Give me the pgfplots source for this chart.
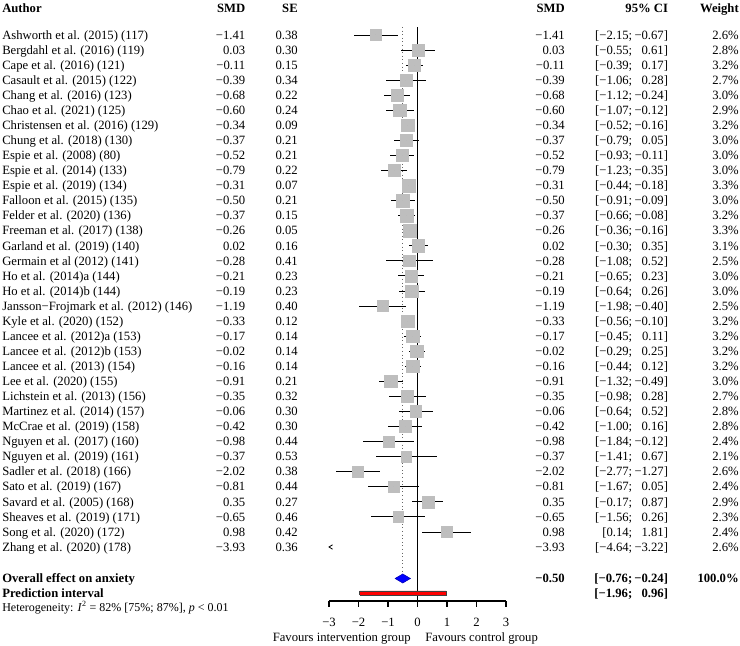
\documentclass[border=0pt]{standalone}
\usepackage{fontspec}
\setmainfont{Liberation Serif}
\usepackage{pgfplots}
\usepackage{pgfplotstable}
\pgfplotsset{compat=1.18}
\definecolor{sqgray}{RGB}{190,190,190}

\pgfplotstableread[col sep=comma]{
i,name,smd,lo,hi,w,wh,smds,ses,los,his,ws
0,Ashworth et al. (2015) (117),-1.41,-2.15,-0.67,2.6,0,−1.41,0.38,−2.15,−0.67,2.6\%
1,Bergdahl et al. (2016) (119),0.03,-0.55,0.61,2.8,0,0.03,0.30,−0.55,0.61,2.8\%
2,Cape et al. (2016) (121),-0.11,-0.39,0.17,3.2,0,−0.11,0.15,−0.39,0.17,3.2\%
3,Casault et al. (2015) (122),-0.39,-1.06,0.28,2.7,0,−0.39,0.34,−1.06,0.28,2.7\%
4,Chang et al. (2016) (123),-0.68,-1.12,-0.24,3.0,0,−0.68,0.22,−1.12,−0.24,3.0\%
5,Chao et al. (2021) (125),-0.60,-1.07,-0.12,2.9,0,−0.60,0.24,−1.07,−0.12,2.9\%
6,Christensen et al. (2016) (129),-0.34,-0.52,-0.16,3.2,1,−0.34,0.09,−0.52,−0.16,3.2\%
7,Chung et al. (2018) (130),-0.37,-0.79,0.05,3.0,0,−0.37,0.21,−0.79,0.05,3.0\%
8,Espie et al. (2008) (80),-0.52,-0.93,-0.11,3.0,0,−0.52,0.21,−0.93,−0.11,3.0\%
9,Espie et al. (2014) (133),-0.79,-1.23,-0.35,3.0,0,−0.79,0.22,−1.23,−0.35,3.0\%
10,Espie et al. (2019) (134),-0.31,-0.44,-0.18,3.3,1,−0.31,0.07,−0.44,−0.18,3.3\%
11,Falloon et al. (2015) (135),-0.50,-0.91,-0.09,3.0,0,−0.50,0.21,−0.91,−0.09,3.0\%
12,Felder et al. (2020) (136),-0.37,-0.66,-0.08,3.2,0,−0.37,0.15,−0.66,−0.08,3.2\%
13,Freeman et al. (2017) (138),-0.26,-0.36,-0.16,3.3,1,−0.26,0.05,−0.36,−0.16,3.3\%
14,Garland et al. (2019) (140),0.02,-0.30,0.35,3.1,0,0.02,0.16,−0.30,0.35,3.1\%
15,Germain et al (2012) (141),-0.28,-1.08,0.52,2.5,0,−0.28,0.41,−1.08,0.52,2.5\%
16,Ho et al. (2014)a (144),-0.21,-0.65,0.23,3.0,0,−0.21,0.23,−0.65,0.23,3.0\%
17,Ho et al. (2014)b (144),-0.19,-0.64,0.26,3.0,0,−0.19,0.23,−0.64,0.26,3.0\%
18,Jansson−Frojmark et al. (2012) (146),-1.19,-1.98,-0.40,2.5,0,−1.19,0.40,−1.98,−0.40,2.5\%
19,Kyle et al. (2020) (152),-0.33,-0.56,-0.10,3.2,0,−0.33,0.12,−0.56,−0.10,3.2\%
20,Lancee et al. (2012)a (153),-0.17,-0.45,0.11,3.2,0,−0.17,0.14,−0.45,0.11,3.2\%
21,Lancee et al. (2012)b (153),-0.02,-0.29,0.25,3.2,0,−0.02,0.14,−0.29,0.25,3.2\%
22,Lancee et al. (2013) (154),-0.16,-0.44,0.12,3.2,0,−0.16,0.14,−0.44,0.12,3.2\%
23,Lee et al. (2020) (155),-0.91,-1.32,-0.49,3.0,0,−0.91,0.21,−1.32,−0.49,3.0\%
24,Lichstein et al. (2013) (156),-0.35,-0.98,0.28,2.7,0,−0.35,0.32,−0.98,0.28,2.7\%
25,Martinez et al. (2014) (157),-0.06,-0.64,0.52,2.8,0,−0.06,0.30,−0.64,0.52,2.8\%
26,McCrae et al. (2019) (158),-0.42,-1.00,0.16,2.8,0,−0.42,0.30,−1.00,0.16,2.8\%
27,Nguyen et al. (2017) (160),-0.98,-1.84,-0.12,2.4,0,−0.98,0.44,−1.84,−0.12,2.4\%
28,Nguyen et al. (2019) (161),-0.37,-1.41,0.67,2.1,0,−0.37,0.53,−1.41,0.67,2.1\%
29,Sadler et al. (2018) (166),-2.02,-2.77,-1.27,2.6,0,−2.02,0.38,−2.77,−1.27,2.6\%
30,Sato et al. (2019) (167),-0.81,-1.67,0.05,2.4,0,−0.81,0.44,−1.67,0.05,2.4\%
31,Savard et al. (2005) (168),0.35,-0.17,0.87,2.9,0,0.35,0.27,−0.17,0.87,2.9\%
32,Sheaves et al. (2019) (171),-0.65,-1.56,0.26,2.3,0,−0.65,0.46,−1.56,0.26,2.3\%
33,Song et al. (2020) (172),0.98,0.14,1.81,2.4,0,0.98,0.42,0.14,1.81,2.4\%
34,Zhang et al. (2020) (178),-3.93,-4.64,-3.22,2.6,2,−3.93,0.36,−4.64,−3.22,2.6\%
}\studies

\pgfplotsset{
  txt/.style={only marks, mark=*, mark size=0pt, mark options={draw=none,fill=none},
    nodes near coords, point meta=explicit symbolic,
    every node near coord/.append style={anchor=#1, inner sep=0pt, text height=6.3pt,
      text depth=0pt, text=black, font=\fontsize{9.5}{11}\selectfont}},
}
\tikzset{
  lbl/.style={inner sep=0pt, text height=6.3pt, text depth=0pt, anchor=#1},
}

\begin{document}
\begin{tikzpicture}[font=\fontsize{9.5}{11}\selectfont]
% ---------- canvas for the text columns (units = pixels) ----------
\begin{axis}[at={(0,0)}, anchor=south west, scale only axis,
  width=555pt, height=484.5pt, xmin=0, xmax=740, ymin=0, ymax=646,
  axis lines=none, clip=false]
\addplot[draw=none] coordinates {(0,0) (740,646)};
\addplot[txt=west] table[x expr=2, y expr=611-15.06*\thisrow{i}, meta=name]{\studies};
\addplot[txt=east] table[x expr=245.5, y expr=611-15.06*\thisrow{i}, meta=smds]{\studies};
\addplot[txt=east] table[x expr=298, y expr=611-15.06*\thisrow{i}, meta=ses]{\studies};
\addplot[txt=east] table[x expr=565, y expr=611-15.06*\thisrow{i}, meta=smds]{\studies};
\addplot[txt=east, nodes near coords={\lbrack\pgfplotspointmeta;}]
  table[x expr=632.5, y expr=611-15.06*\thisrow{i}, meta=los]{\studies};
\addplot[txt=east, nodes near coords={\pgfplotspointmeta\rbrack}]
  table[x expr=668.3, y expr=611-15.06*\thisrow{i}, meta=his]{\studies};
\addplot[txt=east] table[x expr=739, y expr=611-15.06*\thisrow{i}, meta=ws]{\studies};
% header
\node[lbl=west, font=\fontsize{9.5}{11}\selectfont\bfseries] at (axis cs:2,638) {Author};
\node[lbl=east, font=\fontsize{9.5}{11}\selectfont\bfseries] at (axis cs:245.5,638) {SMD};
\node[lbl=east, font=\fontsize{9.5}{11}\selectfont\bfseries] at (axis cs:298,638) {SE};
\node[lbl=east, font=\fontsize{9.5}{11}\selectfont\bfseries] at (axis cs:565,638) {SMD};
\node[lbl=east, font=\fontsize{9.5}{11}\selectfont\bfseries] at (axis cs:668.3,638) {95\% CI};
\node[lbl=east, font=\fontsize{9.5}{11}\selectfont\bfseries] at (axis cs:739,638) {Weight};
% overall rows
\node[lbl=west, font=\fontsize{9.5}{11}\selectfont\bfseries] at (axis cs:2,67.5) {Overall effect on anxiety};
\node[lbl=east, font=\fontsize{9.5}{11}\selectfont\bfseries] at (axis cs:565,67.5) {−0.50};
\node[lbl=east, font=\fontsize{9.5}{11}\selectfont\bfseries] at (axis cs:632.5,67.5) {\lbrack−0.76;};
\node[lbl=east, font=\fontsize{9.5}{11}\selectfont\bfseries] at (axis cs:668.3,67.5) {−0.24\rbrack};
\node[lbl=east, font=\fontsize{9.5}{11}\selectfont\bfseries] at (axis cs:739,67.5) {100.0\%};
\node[lbl=west, font=\fontsize{9.5}{11}\selectfont\bfseries] at (axis cs:2,53) {Prediction interval};
\node[lbl=east, font=\fontsize{9.5}{11}\selectfont\bfseries] at (axis cs:632.5,53) {\lbrack−1.96;};
\node[lbl=east, font=\fontsize{9.5}{11}\selectfont\bfseries] at (axis cs:668.3,53) {0.96\rbrack};
\node[lbl=west, font=\fontsize{9}{10}\selectfont] at (axis cs:2,38.7)
  {Heterogeneity: \textit{I}\textsuperscript{2} = 82\% \lbrack 75\%; 87\%\rbrack, \textit{p} < 0.01};
% x label
\node[lbl=east] at (axis cs:411,9) {Favours intervention group};
\node[lbl=west] at (axis cs:425,9) {Favours control group};
\end{axis}

% ---------- forest plot ----------
\begin{axis}[at={(246.75pt,33.75pt)}, anchor=south west, scale only axis,
  width=132.75pt, height=450.75pt, xmin=-3, xmax=3, ymin=45, ymax=646,
  clip=false, axis x line=bottom, axis y line=none,
  x axis line style={-, line width=0.9pt},
  xtick={-3,-2,-1,0,1,2,3}, xticklabels={−3,−2,−1,0,1,2,3},
  tick align=outside, major tick length=4.5pt,
  tick style={black, line width=0.9pt},
  xticklabel style={font=\fontsize{9.5}{11}\selectfont, inner sep=0pt,
    text height=6.3pt, text depth=0pt, anchor=center, yshift=-11.25pt}]
% dotted line at overall effect
\addplot[gray!80!black, dotted, line width=0.7pt] coordinates {(-0.5,619) (-0.5,72)};
% squares
\addplot[scatter, only marks, mark=square*,
  scatter/use mapped color={draw=sqgray, fill=sqgray},
  visualization depends on={2.66*sqrt(\thisrow{w}) \as \msz},
  scatter/@pre marker code/.append style={/tikz/mark size=\msz pt},
  restrict expr to domain={\thisrow{wh}}{0:1}]
  table[x=smd, y expr=611-15.06*\thisrow{i}]{\studies};
% zero line
\addplot[black, line width=0.9pt] coordinates {(0,45) (0,619)};
% black CIs and estimate ticks
\addplot[only marks, mark=*, mark size=0pt, mark options={draw=none,fill=none},
  restrict expr to domain={\thisrow{wh}}{0:0},
  error bars/.cd, x dir=both, x explicit, y dir=both, y fixed=3, error mark=none,
  error bar style={draw=black, line width=0.7pt}]
  table[x=smd, y expr=611-15.06*\thisrow{i},
    x error plus expr=\thisrow{hi}-\thisrow{smd},
    x error minus expr=\thisrow{smd}-\thisrow{lo}]{\studies};
% white CIs (inside square)
\addplot[only marks, mark=*, mark size=0pt, mark options={draw=none,fill=none},
  restrict expr to domain={\thisrow{wh}}{1:1},
  error bars/.cd, x dir=both, x explicit, y dir=both, y fixed=3, error mark=none,
  error bar style={draw=white, line width=0.7pt}]
  table[x=smd, y expr=611-15.06*\thisrow{i},
    x error plus expr=\thisrow{hi}-\thisrow{smd},
    x error minus expr=\thisrow{smd}-\thisrow{lo}]{\studies};
% off-scale arrow for Zhang
\addplot[black, line width=0.6pt] coordinates {(-2.88,101.2) (-3.0,99) (-2.88,96.8)};
% overall diamond
\addplot[fill=blue, draw=blue!70!black, line width=0.4pt]
  coordinates {(-0.76,67.5) (-0.5,72) (-0.24,67.5) (-0.5,63) (-0.76,67.5)};
% prediction interval
\addplot[fill=red, draw=darkgray, line width=0.4pt]
  coordinates {(-1.96,51) (0.96,51) (0.96,55) (-1.96,55) (-1.96,51)};
\end{axis}
\end{tikzpicture}
\end{document}
